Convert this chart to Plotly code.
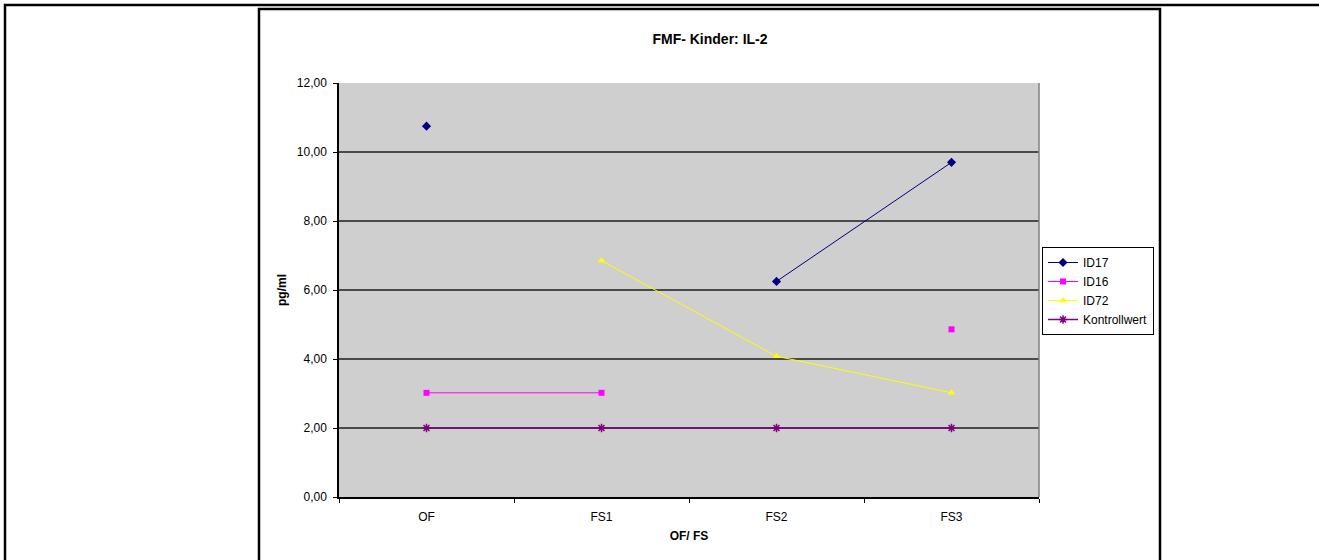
import plotly.graph_objects as go

# Messzeitpunkte und IL-2-Werte (pg/ml); None = kein Messwert
zeitpunkte = ["OF", "FS1", "FS2", "FS3"]
id17 = [10.75, None, 6.25, 9.70]
id16 = [3.02, 3.02, None, 4.86]
id72 = [None, 6.85, 4.08, 3.02]
kontrollwert = [2.0, 2.0, 2.0, 2.0]

W, H = 1319, 560
L, R, T, B = 339, 1039, 83, 497  # Plotfläche in Pixeln


def px(x):
    return (x - L) / (R - L)


def py(y):
    return (B - y) / (B - T)


FONT = "Liberation Sans, Arial, sans-serif"

fig = go.Figure()

serien = [
    ("ID17", id17, "#000080", "diamond", 7, 1),
    ("ID16", id16, "#FF00FF", "square", 6, 1),
    ("ID72", id72, "#FFFF00", "triangle-up", 7, 1),
]
for name, werte, farbe, symbol, size, lw in serien:
    fig.add_trace(go.Scatter(
        x=zeitpunkte, y=werte, name=name, mode="lines+markers",
        connectgaps=False,
        line=dict(color=farbe, width=lw),
        marker=dict(symbol=symbol, size=size, color=farbe,
                    line=dict(width=0)),
    ))

fig.add_trace(go.Scatter(
    x=zeitpunkte, y=kontrollwert, name="Kontrollwert", mode="lines+markers",
    line=dict(color="#800080", width=1.5),
    marker=dict(symbol="asterisk-open", size=7,
                line=dict(color="#800080", width=1.5)),
))

shapes = [
    # äußerer Seitenrahmen
    dict(type="rect", xref="paper", yref="paper",
         x0=px(5), x1=px(1330), y0=py(5), y1=py(580),
         line=dict(color="black", width=2.5), fillcolor="rgba(0,0,0,0)",
         layer="below"),
    # Diagrammrahmen
    dict(type="rect", xref="paper", yref="paper",
         x0=px(259), x1=px(1160), y0=py(9), y1=py(600),
         line=dict(color="black", width=2.5), fillcolor="rgba(0,0,0,0)",
         layer="below"),
    # rechte Kante der Plotfläche
    dict(type="line", xref="paper", yref="paper", x0=1, x1=1, y0=0, y1=1,
         line=dict(color="#808080", width=1.5)),
]

fig.update_layout(
    width=W, height=H,
    margin=dict(l=L, r=W - R, t=T, b=H - B, pad=0),
    paper_bgcolor="white",
    plot_bgcolor="#CFCFCF",
    separators=",.",
    font=dict(family=FONT, size=12, color="black"),
    title=dict(text="<b>FMF- Kinder: IL-2</b>", x=px(710), xanchor="center",
               y=1 - 39 / H, yanchor="middle", xref="paper",
               font=dict(size=14, family=FONT)),
    showlegend=True,
    legend=dict(x=px(1042), y=py(247), xanchor="left", yanchor="top",
                bgcolor="white", bordercolor="black", borderwidth=1,
                font=dict(size=12, family=FONT), tracegroupgap=0,
                itemwidth=30),
    shapes=shapes,
    xaxis=dict(
        type="category", range=[-0.5, 3.5],
        showgrid=False, zeroline=False,
        showline=True, linecolor="black", linewidth=1.5,
        ticks="outside", tickson="boundaries", ticklen=4, tickcolor="black",
        tickfont=dict(size=12, family=FONT),
        ticklabelstandoff=8,
        title=dict(text="<b>OF/ FS</b>", standoff=8,
                   font=dict(size=12, family=FONT)),
        fixedrange=True,
    ),
    yaxis=dict(
        range=[0, 12], dtick=2, tickformat=".2f",
        showgrid=True, gridcolor="#4A4A4A", gridwidth=1.5,
        zeroline=False,
        showline=True, linecolor="black", linewidth=1.5,
        ticks="outside", ticklen=4, tickcolor="black",
        tickfont=dict(size=12, family=FONT),
        ticklabelstandoff=4,
        title=dict(text="<b>pg/ml</b>", standoff=8,
                   font=dict(size=12, family=FONT)),
        fixedrange=True,
    ),
)

fig.write_html("out.html")
